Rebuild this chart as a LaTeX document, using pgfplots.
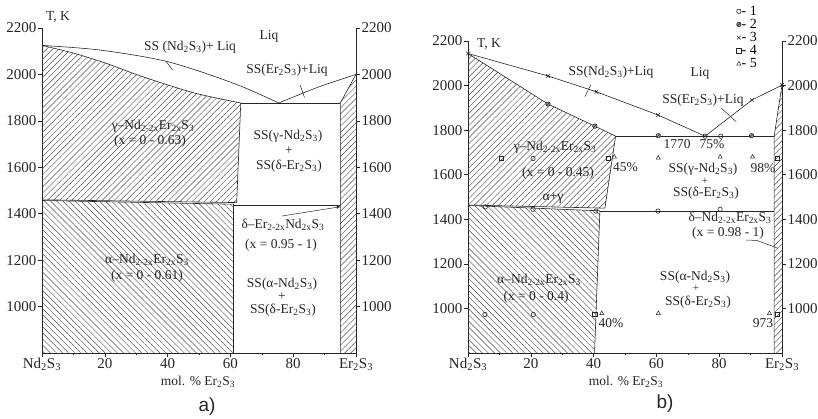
\documentclass[border=0pt]{standalone}
\usepackage{fontspec}
\setmainfont{Liberation Serif}
\setsansfont{Liberation Sans}
\usepackage{pgfplots}
\pgfplotsset{compat=1.18}
\usetikzlibrary{patterns.meta,arrows.meta}
\newcommand{\sub}[1]{\textsubscript{#1}}
\newcommand{\NdS}{Nd\sub{2}S\sub{3}}
\newcommand{\ErS}{Er\sub{2}S\sub{3}}
\pgfdeclareplotmark{oslash}{%
  \pgfpathcircle{\pgfpointorigin}{\pgfplotmarksize}%
  \pgfusepathqfillstroke
  \pgfpathmoveto{\pgfpoint{-0.75\pgfplotmarksize}{-0.75\pgfplotmarksize}}%
  \pgfpathlineto{\pgfpoint{0.75\pgfplotmarksize}{0.75\pgfplotmarksize}}%
  \pgfusepathqstroke}
\pgfplotsset{
  pd/.style={scale only axis, width=314pt, xmin=0, xmax=100, ymin=800, ymax=2200,
    axis line style={-, line width=0.6pt, black!85}, tick align=outside,
    major tick length=4pt, minor tick length=2pt, tick style={black!85, line width=0.5pt},
    ytick={1000,1200,1400,1600,1800,2000,2200},
    xtick={0,20,40,60,80,100}, minor xtick={10,30,50,70,90},
    xticklabels={\NdS,20,40,60,80,\ErS},
    /pgf/number format/assume math mode=true, /pgf/number format/1000 sep={},
    tick label style={font=\fontsize{15}{16}\selectfont, black!85},
    yticklabel style={inner sep=1.5pt},
    xticklabel style={inner sep=1pt},
    clip=false},
  bd/.style={black!85, line width=0.6pt, forget plot},
  hne/.style={draw=none, pattern={Lines[angle=45, distance=4.3pt, line width=0.45pt]}, pattern color=black!70, forget plot},
  hnw/.style={draw=none, pattern={Lines[angle=-45, distance=4.3pt, line width=0.45pt]}, pattern color=black!70, forget plot},
}
\tikzset{lab/.style={font=\fontsize{13.5}{15}\selectfont, inner sep=0pt, black!85}}
\begin{document}
\begin{tikzpicture}
\path[use as bounding box] (0pt,0pt) rectangle (818pt,-418pt);
% ---------------- panel a ----------------
\begin{axis}[pd, height=325pt, at={(42pt,-353pt)}, anchor=south west,
  axis x line*=bottom, axis y line*=left]
  \addplot[hne] coordinates {(0,2125) (10,2092) (20,2050) (30,2000) (40,1955) (50,1915) (63.3,1877) (62,1448) (0,1460)} --cycle;
  \addplot[hnw] coordinates {(0,1457) (61,1441) (61,800) (0,800)} --cycle;
  \addplot[hne] coordinates {(95,800) (100,800) (100,2000) (95,1877)} --cycle;
  \addplot[bd, smooth] coordinates {(0,2125) (10,2092) (20,2050) (30,2000) (40,1955) (50,1915) (63.3,1877)};
  \addplot[bd] coordinates {(63.3,1877) (62,1448) (0,1460)};
  \addplot[bd] coordinates {(0,1457) (61,1441) (61,800)};
  \addplot[bd] coordinates {(61,1435) (95,1435)};
  \addplot[bd] coordinates {(63.3,1877) (95,1877)};
  \addplot[bd] coordinates {(95,800) (95,1877) (100,2000)};
  \addplot[bd, smooth] coordinates {(0,2125) (18.5,2105) (40,2055) (61,1962) (75.4,1877)};
  \addplot[bd, smooth] coordinates {(75.4,1877) (87.5,1943) (100,2000)};
  \addplot[bd, line width=0.5pt] coordinates {(39.4,2058) (41.6,2019)};
  \addplot[bd, line width=0.5pt] coordinates {(82.2,1955) (83.6,1900)};
  \addplot[bd, line width=0.5pt, -{Stealth[length=4pt]}] coordinates {(76.4,1390) (95,1430)};
\end{axis}
\begin{axis}[pd, height=325pt, at={(42pt,-353pt)}, anchor=south west,
  axis y line*=right, hide x axis]
\end{axis}
% ---------------- panel b ----------------
\begin{axis}[pd, height=312pt, at={(468pt,-353pt)}, anchor=south west,
  axis x line*=bottom, axis y line*=left,
  legend style={draw=none, fill=none, at={(axis description cs:0.855,1.115)}, anchor=north west,
    font=\fontsize{14}{15}\selectfont, row sep=1.2pt, inner sep=0pt,
    nodes={inner sep=0.6pt}},
  legend cell align=left]
  \addplot[hne] coordinates {(0,2144) (25.5,1917) (40.4,1818) (47,1773) (43.6,1450) (0,1464)} --cycle;
  \addplot[hnw] coordinates {(0,1462) (42,1438) (40.3,800) (0,800)} --cycle;
  \addplot[hne] coordinates {(97.5,800) (100,800) (100,2002) (97.5,1773)} --cycle;
  \addplot[bd] coordinates {(0,2144) (25.5,1917) (40.4,1818) (47,1773) (43.6,1450) (0,1464)};
  \addplot[bd] coordinates {(0,1462) (42,1438) (40.3,800)};
  \addplot[bd] coordinates {(42,1437) (97.5,1437)};
  \addplot[bd] coordinates {(47,1773) (97.5,1773)};
  \addplot[bd] coordinates {(97.5,800) (97.5,1773) (100,2002)};
  \addplot[bd] coordinates {(0,2144) (25.5,2043) (40.9,1972) (60.5,1868) (75.5,1773) (90.4,1935) (100,2002)};
  \addplot[bd, line width=0.5pt] coordinates {(37.2,1950) (39.1,2003)};
  \addplot[bd, line width=0.5pt] coordinates {(80.7,1898) (85.4,1838)};
  \addplot[bd, line width=0.5pt] coordinates {(88.6,1307) (92,1305) (98.7,1270)};
  \addplot[only marks, mark=o, mark size=2.2pt, black!85, mark options={fill=white, line width=0.6pt}] coordinates {
    (5.5,1456) (20.7,1445) (40.7,1437) (60.5,1437) (80.3,1445) (75.5,1773) (80.5,1773) (20.7,1673) (5.4,973) (20.8,973)};
  \addlegendentry{- 1}
  \addplot[only marks, mark=oslash, mark size=2.2pt, black!85, mark options={fill=gray!70, line width=0.6pt}] coordinates {
    (25.5,1917) (40.4,1818) (60.6,1775) (90.3,1775)};
  \addlegendentry{- 2}
  \addplot[only marks, mark=x, mark size=2.5pt, black!85, mark options={line width=0.6pt}] coordinates {
    (0,2144) (25.5,2043) (40.9,1972) (60.5,1868) (90.4,1935) (100,2002)};
  \addlegendentry{- 3}
  \addplot[only marks, mark=square, mark size=2.1pt, black!85, mark options={fill=white, line width=0.6pt}] coordinates {
    (10.6,1673) (44.7,1673) (98.5,1673) (40.4,973) (98.5,973)};
  \addlegendentry{- 4}
  \addplot[only marks, mark=triangle, mark size=2.4pt, black!85, mark options={fill=white, line width=0.5pt}] coordinates {
    (46.6,1680) (60.6,1675) (80.3,1680) (90.6,1680) (42.6,978) (60.6,978) (96,978)};
  \addlegendentry{- 5}
\end{axis}
\begin{axis}[pd, height=312pt, at={(468pt,-353pt)}, anchor=south west,
  axis y line*=right, hide x axis]
\end{axis}
% ---------------- texts ----------------
\begin{scope}[x=1pt, y=-1pt]
  \node[lab, anchor=west] at (46,17) {T, K};
  \node[lab] at (190,47) {SS (\NdS)+ Liq};
  \node[lab] at (269,36) {Liq};
  \node[lab] at (287,70) {SS(\ErS)+Liq};
  \node[lab] at (153,126) {γ–Nd\sub{2-2x}Er\sub{2x}S\sub{3}};
  \node[lab] at (150,141) {(x = 0 - 0.63)};
  \node[lab] at (288,136) {SS(γ-\NdS)};
  \node[lab] at (289,151) {+};
  \node[lab] at (289,166) {SS(δ-\ErS)};
  \node[lab] at (283,225) {δ–Er\sub{2-2x}Nd\sub{2x}S\sub{3}};
  \node[lab] at (281,245) {(x = 0.95 - 1)};
  \node[lab] at (147,260) {α–Nd\sub{2-2x}Er\sub{2x}S\sub{3}};
  \node[lab] at (147,276) {(x = 0 - 0.61)};
  \node[lab] at (282,284) {SS(α-\NdS)};
  \node[lab] at (282,297) {+};
  \node[lab] at (283,310) {SS(δ-\ErS)};
  \node[lab] at (198,382) {mol. \% \ErS};
  \node[font=\sffamily\fontsize{19}{21}\selectfont, black!85] at (207,407) {a)};
  \node[lab, anchor=west] at (477,44) {T, K};
  \node[lab] at (611,72) {SS(\NdS)+Liq};
  \node[lab] at (700,73) {Liq};
  \node[lab] at (703,100) {SS(\ErS)+Liq};
  \node[lab] at (555,147) {γ–Nd\sub{2-2x}Er\sub{2x}S\sub{3}};
  \node[lab] at (558,173) {(x = 0 - 0.45)};
  \node[lab] at (553,198) {α+γ};
  \node[lab, anchor=west] at (613,167) {45\%};
  \node[lab] at (677,144) {1770};
  \node[lab] at (712,144) {75\%};
  \node[lab] at (703,169) {SS(γ-\NdS)};
  \node[lab, font=\fontsize{11}{12}\selectfont] at (705,181) {+};
  \node[lab] at (706,193) {SS(δ-\ErS)};
  \node[lab] at (763,168) {98\%};
  \node[lab] at (730,218) {δ–Nd\sub{2-2x}Er\sub{2x}S\sub{3}};
  \node[lab] at (728,233) {(x = 0.98 - 1)};
  \node[lab] at (539,280) {α–Nd\sub{2-2x}Er\sub{2x}S\sub{3}};
  \node[lab] at (536,297) {(x = 0 - 0.4)};
  \node[lab] at (695,277) {SS(α-\NdS)};
  \node[lab, font=\fontsize{11}{12}\selectfont] at (696,288.5) {+};
  \node[lab] at (698,302) {SS(δ-\ErS)};
  \node[lab] at (611,323) {40\%};
  \node[lab] at (763,323) {973};
  \node[lab] at (626,382) {mol. \% \ErS};
  \node[font=\sffamily\fontsize{19}{21}\selectfont, black!85] at (665,404) {b)};
\end{scope}
\end{tikzpicture}
\end{document}
